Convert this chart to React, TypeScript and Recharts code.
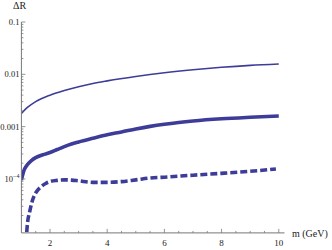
import React from 'react';
import { LineChart, Line, XAxis, YAxis } from 'recharts';

const thinData = [
  { m: 1, v: 0.00179 }, { m: 1.2, v: 0.0023 }, { m: 1.5, v: 0.003 }, { m: 2, v: 0.004 },
  { m: 2.5, v: 0.0049 }, { m: 3, v: 0.0058 }, { m: 3.5, v: 0.0067 }, { m: 4, v: 0.0075 },
  { m: 5, v: 0.0091 }, { m: 6, v: 0.0107 }, { m: 7, v: 0.0122 }, { m: 8, v: 0.0136 },
  { m: 9, v: 0.0148 }, { m: 10, v: 0.0157 },
];

const thickData = [
  { m: 1, v: 9.5e-5 }, { m: 1.1, v: 1.5e-4 }, { m: 1.2, v: 1.85e-4 }, { m: 1.35, v: 2.25e-4 },
  { m: 1.5, v: 2.55e-4 }, { m: 1.75, v: 2.9e-4 }, { m: 2, v: 3.2e-4 }, { m: 2.25, v: 3.65e-4 },
  { m: 2.5, v: 4.15e-4 }, { m: 2.75, v: 4.65e-4 }, { m: 3, v: 5.1e-4 }, { m: 3.5, v: 6.0e-4 },
  { m: 4, v: 7.0e-4 }, { m: 4.5, v: 7.9e-4 }, { m: 5, v: 9.0e-4 }, { m: 5.5, v: 1.01e-3 },
  { m: 6, v: 1.11e-3 }, { m: 6.5, v: 1.2e-3 }, { m: 7, v: 1.28e-3 }, { m: 8, v: 1.41e-3 },
  { m: 9, v: 1.51e-3 }, { m: 10, v: 1.6e-3 },
];

const dashedData = [
  { m: 1.15, v: 4e-6 }, { m: 1.2, v: 1.2e-5 }, { m: 1.3, v: 2.5e-5 }, { m: 1.4, v: 4.1e-5 },
  { m: 1.5, v: 5.4e-5 }, { m: 1.7, v: 7.2e-5 }, { m: 1.85, v: 8.2e-5 }, { m: 2, v: 8.9e-5 },
  { m: 2.25, v: 9.4e-5 }, { m: 2.5, v: 9.6e-5 }, { m: 2.75, v: 9.5e-5 }, { m: 3, v: 9.2e-5 },
  { m: 3.5, v: 8.6e-5 }, { m: 4, v: 8.6e-5 }, { m: 4.5, v: 8.9e-5 }, { m: 5, v: 9.6e-5 },
  { m: 5.5, v: 1.04e-4 }, { m: 6, v: 1.08e-4 }, { m: 7, v: 1.18e-4 }, { m: 8, v: 1.28e-4 },
  { m: 9, v: 1.4e-4 }, { m: 9.9, v: 1.55e-4 },
];

const xMajorTicks = [2, 4, 6, 8, 10];
const xMinorTicks = [1.5, 2.5, 3, 3.5, 4.5, 5, 5.5, 6.5, 7, 7.5, 8.5, 9, 9.5, 10];
const yMajorTicks = [1e-4, 1e-3, 1e-2, 1e-1];
const yMajorLabels = ['10^-4', '0.001', '0.01', '0.1'];
const yMinorMantissas = [2, 3, 4, 5, 6, 7, 8, 9];
const yMinorDecades = [1e-5, 1e-4, 1e-3, 1e-2];

const COLOR = '#3d3d99';
const AXIS = '#777';
const FONT = '"Liberation Serif", "DejaVu Serif", serif';

const yMinorTicks: number[] = [];
yMinorDecades.forEach((d) => yMinorMantissas.forEach((k) => yMinorTicks.push(+(k * d).toPrecision(3))));
const yTicks = [...yMinorTicks, ...yMajorTicks].sort((a, b) => a - b);
const xTicks = Array.from(new Set([...xMinorTicks, ...xMajorTicks])).sort((a, b) => a - b);

const majorIndex = (v: number) => yMajorTicks.findIndex((t) => Math.abs(t - v) / t < 1e-6);

const YTick = (props: any) => {
  const { x, y, payload } = props;
  const v = payload.value;
  const idx = majorIndex(v);
  const major = idx >= 0;
  const label = major ? yMajorLabels[idx] : '';
  return (
    <g>
      <line x1={x} x2={x + (major ? 4 : 2)} y1={y} y2={y} stroke={AXIS} strokeWidth={0.8} />
      {major && label.startsWith('10^') ? (
        <text x={x - 2} y={y + 3} textAnchor="end" fontSize={8.5} fontFamily={FONT} fill="#222">
          <tspan>10</tspan>
          <tspan dy={-4} fontSize={6}>{'\u2212' + label.slice(4)}</tspan>
        </text>
      ) : major ? (
        <text x={x - 2} y={y + 3} textAnchor="end" fontSize={8.5} fontFamily={FONT} fill="#222">
          {label}
        </text>
      ) : null}
    </g>
  );
};

const XTick = (props: any) => {
  const { x, y, payload } = props;
  const v = payload.value;
  const major = xMajorTicks.includes(v);
  return (
    <g>
      <line x1={x} x2={x} y1={y} y2={y - (major ? 4 : 2)} stroke={AXIS} strokeWidth={0.8} />
      {major ? (
        <text x={x} y={y + 13} textAnchor="middle" fontSize={9} fontFamily={FONT} fill="#222">
          {v}
        </text>
      ) : null}
    </g>
  );
};

export default function App() {
  return (
    <div style={{ position: 'absolute', left: 0, top: 0, width: 332, height: 250, background: '#fff' }}>
      <LineChart
        width={332}
        height={250}
        margin={{ top: 22, left: 20.4, right: 47.5, bottom: 16.1 }}
      >
        <XAxis
          dataKey="m"
          type="number"
          domain={[1, 10.2]}
          ticks={xTicks}
          tick={<XTick />}
          tickLine={false}
          tickSize={0}
          tickMargin={0}
          height={1}
          interval={0}
          allowDataOverflow
          stroke={AXIS}
        />
        <YAxis
          dataKey="v"
          type="number"
          scale="log"
          domain={[9.3e-6, 0.1]}
          ticks={yTicks}
          tick={<YTick />}
          tickLine={false}
          tickSize={0}
          tickMargin={0}
          width={1}
          interval={0}
          allowDataOverflow
          stroke={AXIS}
        />
        <Line data={thinData} dataKey="v" type="monotone" stroke={COLOR} strokeWidth={1.6} dot={false} isAnimationActive={false} />
        <Line data={thickData} dataKey="v" type="monotone" stroke={COLOR} strokeWidth={3.6} dot={false} isAnimationActive={false} />
        <Line data={dashedData} dataKey="v" type="monotone" stroke={COLOR} strokeWidth={3.6} strokeDasharray="7 3" dot={false} isAnimationActive={false} />
      </LineChart>
      <div style={{ position: 'absolute', left: 13, top: 0, fontFamily: FONT, fontSize: 10, color: '#222', lineHeight: '12px' }}>ΔR</div>
      <div style={{ position: 'absolute', left: 292, top: 228, fontFamily: FONT, fontSize: 10, color: '#222', lineHeight: '12px' }}>m (GeV)</div>
    </div>
  );
}
